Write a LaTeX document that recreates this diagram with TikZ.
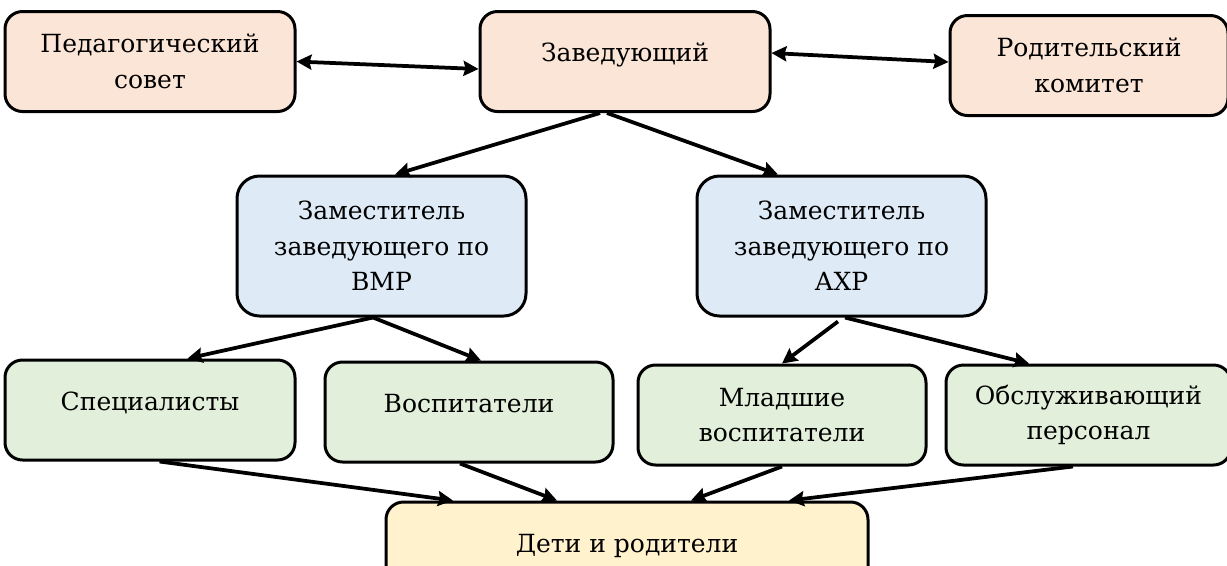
\documentclass[tikz,border=0pt]{standalone}
\usepackage{fontspec}
\setmainfont{DejaVu Serif}
\usetikzlibrary{arrows.meta,positioning}
\definecolor{peach}{HTML}{FBE5D6}
\definecolor{paleblue}{HTML}{DEEBF7}
\definecolor{palegreen}{HTML}{E2EFDA}
\definecolor{paleyellow}{HTML}{FFF2CC}

\begin{document}
\begin{tikzpicture}[>={Stealth[length=6pt,width=6pt,inset=0.8pt]},line width=1.5pt,node distance=10pt,
        box/.style={draw,line width=1.2pt,rounded corners=7pt,align=center,minimum width=116pt,minimum height=40pt,
          inner sep=2pt,font=\fontsize{10}{14.2}\selectfont},
        head/.style={box,fill=peach},
        deputy/.style={box,fill=paleblue,minimum width=115.6pt,minimum height=56pt,rounded corners=9pt},
        staff/.style={box,fill=palegreen,minimum width=115.2pt},
        uptext/.style={text height=8pt,text depth=8pt},
        lowtext/.style={execute at begin node=\rule{0pt}{17pt}}]
        \useasboundingbox (0pt,0pt) rectangle (490.8pt,-226pt);

        \node[head, uptext] (zav) at (250pt,-24.6pt) {Заведующий};
        \node[head, lowtext] (ped) [left=72.8pt of zav] {Педагогический\\совет};
        \node[head, lowtext, minimum width=111.2pt] (rod) [right=70.8pt of zav, yshift=-1.6pt] {Родительский\\комитет};

        \node[deputy, lowtext] (vmr) at (152.6pt,-98.4pt) {Заместитель\\заведующего по\\ВМР};
        \node[deputy, lowtext] (axr) at (336.6pt,-98.4pt) {Заместитель\\заведующего по\\АХР};

        \node[staff, uptext, minimum width=116pt] (spec) [below=98.2pt of ped] {Специалисты};
        \node[staff, uptext] (vosp) [right=10.8pt of spec, yshift=-0.8pt] {Воспитатели};
        \node[staff, lowtext] (mlad) [right=8.8pt of vosp, yshift=-1.2pt] {Младшие\\воспитатели};
        \node[staff, lowtext, minimum width=114pt] (obsl) [right=6.8pt of mlad] {Обслуживающий\\персонал};

        \node[box, uptext, fill=paleyellow, minimum width=192.8pt] (deti) at (250.8pt,-220.8pt) {Дети и родители};

        \path[<->] (ped.east) edge ([yshift=-3pt]zav.west);
        \path[<->] ([yshift=3.4pt]zav.east) edge ([yshift=1.4pt]rod.west);

        \path[->] ([xshift=-10pt]zav.south) edge ([xshift=5.4pt]vmr.north);
        \path[->] ([xshift=-7.2pt]zav.south) edge ([xshift=-25.4pt]axr.north);

        \path[->] ([xshift=-3.4pt]vmr.south) edge ([xshift=15pt]spec.north);
        \path[->] ([xshift=-3.4pt]vmr.south) edge ([xshift=4.8pt]vosp.north);
        \path[->] ([xshift=-1.4pt,yshift=-1.6pt]axr.south) edge (mlad.north);
        \path[->] ([xshift=1.4pt]axr.south) edge ([xshift=-23.8pt]obsl.north);

        \path[->] ([xshift=3.8pt]spec.south) edge ([xshift=-69.6pt]deti.north);
        \path[->] ([xshift=-3.6pt]vosp.south) edge ([xshift=-28pt]deti.north);
        \path[->] (mlad.south) edge ([xshift=25.6pt]deti.north);
        \path[->] ([xshift=-6.2pt]obsl.south) edge ([xshift=64.8pt]deti.north);
      \end{tikzpicture}
\end{document}
